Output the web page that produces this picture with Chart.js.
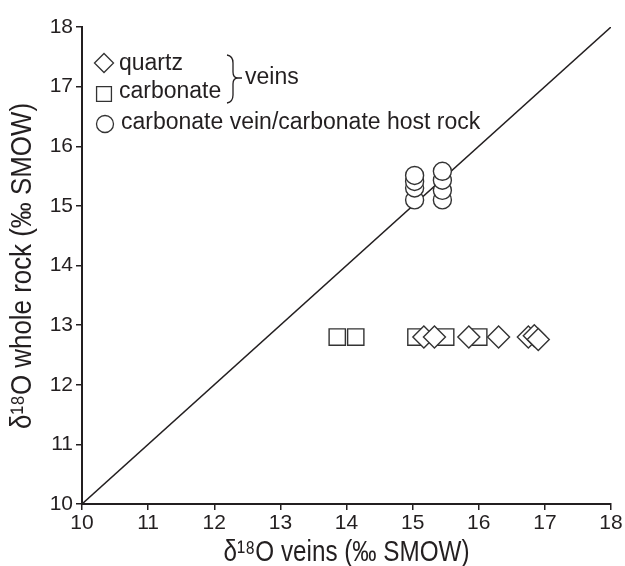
<!DOCTYPE html>
<html>
<head>
<meta charset="utf-8">
<script src="https://cdn.jsdelivr.net/npm/chart.js@4.4.1/dist/chart.umd.min.js"></script>
<style>
  html, body { margin: 0; padding: 0; background: #fff; }
  #wrap { width: 625px; height: 566px; position: relative; }
</style>
</head>
<body>
<div id="wrap"><canvas id="chart" width="625" height="566"></canvas></div>
<script>
// δ18O of veins vs whole rock
const quartzX = [15.17, 15.33, 15.85, 16.3, 16.75, 16.84, 16.9];
const quartzY = [12.8, 12.8, 12.8, 12.8, 12.8, 12.82, 12.76];
const carbX = [13.86, 14.14, 15.05, 15.5, 16.0];
const carbY = [12.8, 12.8, 12.8, 12.8, 12.8];
const hostX = [15.03, 15.03, 15.03, 15.03, 15.45, 15.45, 15.45, 15.45];
const hostY = [15.1, 15.3, 15.41, 15.51, 15.1, 15.26, 15.43, 15.58];
const lineX = [10, 18];
const lineY = [10, 18];
const xTicks = [10, 11, 12, 13, 14, 15, 16, 17, 18];
const yTicks = [10, 11, 12, 13, 14, 15, 16, 17, 18];
const xTitle = 'δ¹⁸O veins (‰ SMOW)';
const yTitle = 'δ¹⁸O whole rock (‰ SMOW)';

const FONT = '"Liberation Sans", Arial, sans-serif';
const INK = '#231f20';

function pts(xs, ys) { return xs.map((x, i) => ({ x: x, y: ys[i] })); }

// titles are set in a tall, narrow face in the original: squeeze them to width
function squeezed(ctx, text, cx, cy, width, size, rot) {
  ctx.save();
  ctx.font = size + 'px ' + FONT;
  const w = ctx.measureText(text).width;
  ctx.translate(cx, cy);
  ctx.rotate(rot);
  ctx.scale(width / w, 1);
  ctx.textAlign = 'center';
  ctx.textBaseline = 'middle';
  ctx.fillStyle = INK;
  ctx.fillText(text, 0, 0);
  ctx.restore();
}

const legendPlugin = {
  id: 'legendBox',
  afterDraw(chart) {
    const ctx = chart.ctx;
    const area = chart.chartArea;
    squeezed(ctx, xTitle, (area.left + area.right) / 2, 553, 246, 30, 0);
    squeezed(ctx, yTitle, 23, 266, 326, 30, -Math.PI / 2);

    ctx.save();
    ctx.strokeStyle = '#333';
    ctx.fillStyle = '#fff';
    ctx.lineWidth = 1.3;
    Chart.helpers.drawPoint(ctx, { pointStyle: 'rectRot', radius: 9.5, rotation: 0 }, 104, 63);
    ctx.fill(); ctx.stroke();
    Chart.helpers.drawPoint(ctx, { pointStyle: 'rect', radius: 10.5, rotation: 0 }, 104, 94);
    ctx.fill(); ctx.stroke();
    Chart.helpers.drawPoint(ctx, { pointStyle: 'circle', radius: 8.5, rotation: 0 }, 105, 124);
    ctx.fill(); ctx.stroke();

    ctx.fillStyle = INK;
    ctx.font = '23px ' + FONT;
    ctx.textBaseline = 'middle';
    ctx.textAlign = 'left';
    ctx.fillText('quartz', 119, 64);
    ctx.fillText('carbonate', 119, 92);
    ctx.fillText('carbonate vein/carbonate host rock', 121, 123);
    ctx.fillText('veins', 245, 78);

    // brace
    ctx.strokeStyle = INK;
    ctx.lineWidth = 1.3;
    ctx.beginPath();
    ctx.moveTo(227, 55);
    ctx.quadraticCurveTo(233, 56, 233, 63);
    ctx.lineTo(233, 72);
    ctx.quadraticCurveTo(233, 78, 238, 78);
    ctx.quadraticCurveTo(233, 78, 233, 84);
    ctx.lineTo(233, 95);
    ctx.quadraticCurveTo(233, 102, 227, 103);
    ctx.moveTo(238, 78);
    ctx.lineTo(242, 78);
    ctx.stroke();
    ctx.restore();
  }
};

const markerBase = {
  type: 'scatter',
  backgroundColor: '#fff',
  borderColor: '#333',
  borderWidth: 1.4,
  hoverRadius: 0
};

new Chart(document.getElementById('chart'), {
  data: {
    datasets: [
      {
        type: 'line',
        data: pts(lineX, lineY),
        borderColor: INK,
        borderWidth: 1.5,
        pointRadius: 0,
        fill: false,
        order: 4
      },
      Object.assign({}, markerBase, {
        label: 'carbonate',
        data: pts(carbX, carbY),
        pointStyle: 'rect',
        pointRadius: 11.5,
        order: 3
      }),
      Object.assign({}, markerBase, {
        label: 'quartz',
        data: pts(quartzX, quartzY),
        pointStyle: 'rectRot',
        pointRadius: 11,
        order: 2
      }),
      Object.assign({}, markerBase, {
        label: 'carbonate vein/carbonate host rock',
        data: pts(hostX, hostY),
        pointStyle: 'circle',
        pointRadius: 9,
        order: 1
      })
    ]
  },
  options: {
    responsive: false,
    animation: false,
    layout: { padding: { top: 27, right: 14, left: 0, bottom: 0 } },
    plugins: { legend: { display: false }, tooltip: { enabled: false } },
    scales: {
      x: {
        type: 'linear',
        min: 10, max: 18,
        afterBuildTicks(axis) { axis.ticks = xTicks.map(v => ({ value: v })); },
        afterFit(axis) { axis.height = 62; },
        grid: { display: true, drawOnChartArea: false, drawTicks: true, tickLength: 6, color: INK, lineWidth: 1.5 },
        border: { display: true, color: INK, width: 2 },
        ticks: { color: INK, font: { family: FONT, size: 21 }, padding: 1, maxRotation: 0 },
        title: { display: false }
      },
      y: {
        type: 'linear',
        min: 10, max: 18,
        afterBuildTicks(axis) { axis.ticks = yTicks.map(v => ({ value: v })); },
        afterFit(axis) { axis.width = 82; },
        grid: { display: true, drawOnChartArea: false, drawTicks: true, tickLength: 6, color: INK, lineWidth: 1.5 },
        border: { display: true, color: INK, width: 2 },
        ticks: { color: INK, font: { family: FONT, size: 21 }, padding: 3 },
        title: { display: false }
      }
    }
  },
  plugins: [legendPlugin]
});
</script>
</body>
</html>
